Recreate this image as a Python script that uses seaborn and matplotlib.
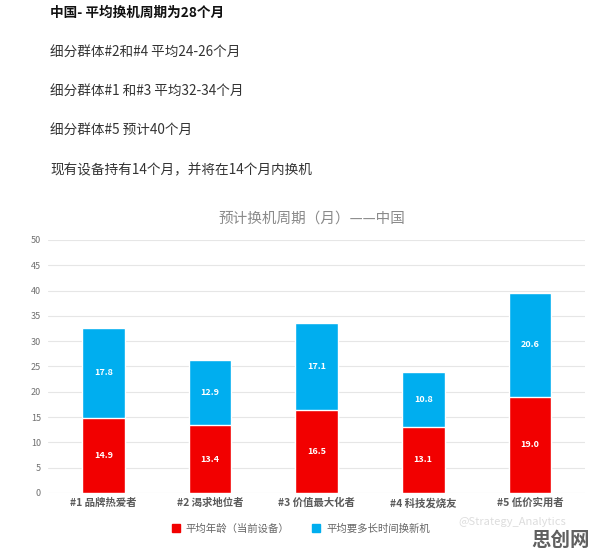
import matplotlib
matplotlib.use("Agg")
import matplotlib.pyplot as plt
import seaborn as sns
import pandas as pd
from matplotlib.patches import Patch

sns.set_theme(style="white")
plt.rcParams['font.family'] = ['Noto Sans CJK SC', 'DejaVu Sans']

categories = ["#1 品牌热爱者", "#2 渴求地位者", "#3 价值最大化者", "#4 科技发烧友", "#5 低价实用者"]
current_age = [14.9, 13.4, 16.5, 13.1, 19.0]
time_to_replace = [17.8, 12.9, 17.1, 10.8, 20.6]
series_names = ["平均年龄（当前设备）", "平均要多长时间换新机"]
chart_title = "预计换机周期（月）——中国"
yticks = [0, 5, 10, 15, 20, 25, 30, 35, 40, 45, 50]
header_lines = ["中国- 平均换机周期为28个月", "细分群体#2和#4 平均24-26个月", "细分群体#1 和#3 平均32-34个月",
                "细分群体#5 预计40个月", "现有设备持有14个月，并将在14个月内换机"]

df = pd.DataFrame({"cat": categories, "cur": current_age, "rem": time_to_replace})
df["total"] = df["cur"] + df["rem"]

RED = "#F20000"
BLUE = "#00AEEF"

fig = plt.figure(figsize=(5.96, 5.58), dpi=100)
ax = fig.add_axes([0.0805, 0.1165, 0.9015, 0.4534])

sns.barplot(data=df, x="cat", y="total", color=BLUE, width=0.4, ax=ax, saturation=1)
sns.barplot(data=df, x="cat", y="cur", color=RED, width=0.4, ax=ax, saturation=1)

ax.set_ylim(0, 50)
ax.set_xlim(-0.52, 4.52)
ax.set_yticks(yticks)
ax.set_yticklabels([str(t) for t in yticks], fontsize=6.5, color="#707070")
ax.yaxis.grid(True, color="#E6E6E6", linewidth=0.8)
ax.set_axisbelow(True)
for s in ax.spines.values():
    s.set_visible(False)
ax.tick_params(axis="both", length=0)
ax.tick_params(axis="y", pad=5)
ax.set_xlabel("")
ax.set_ylabel("")
ax.set_xticks(range(len(categories)))
ax.set_xticklabels(categories, fontsize=7.5, color="#5A5A5A", fontweight="bold")

for i, (c, r) in enumerate(zip(current_age, time_to_replace)):
    ax.text(i, c / 2, f"{c:.1f}", ha="center", va="center", color="white", fontsize=6.5, fontweight="bold")
    ax.text(i, c + r / 2, f"{r:.1f}", ha="center", va="center", color="white", fontsize=6.5, fontweight="bold")

handles = [Patch(color=RED), Patch(color=BLUE)]
fig.legend(handles, series_names, loc="center", bbox_to_anchor=(0.505, 0.053), ncol=2, frameon=False,
           fontsize=7.5, handlelength=0.7, handleheight=0.7, columnspacing=2.2, handletextpad=0.6,
           labelcolor="#666666")

fig.text(0.524, 0.608, chart_title, ha="center", va="center", fontsize=10.5, color="#8A8A8A")

ys = [13, 52, 91, 130, 170]
for k, (line, y) in enumerate(zip(header_lines, ys)):
    fig.text(50 / 596, 1 - y / 558, line, ha="left", va="center", fontsize=9.8,
             color="#111111" if k == 0 else "#333333", fontweight="bold" if k == 0 else "normal")

fig.text(0.86, 0.064, "@Strategy_Analytics", ha="center", va="center", fontsize=8, color="#DDDDDD")
fig.text(561 / 596, 1 - 540 / 558, "思创网", ha="center", va="center", fontsize=14, color="#606060", fontweight="bold")

fig.savefig("out.png", dpi=100, facecolor="white")
